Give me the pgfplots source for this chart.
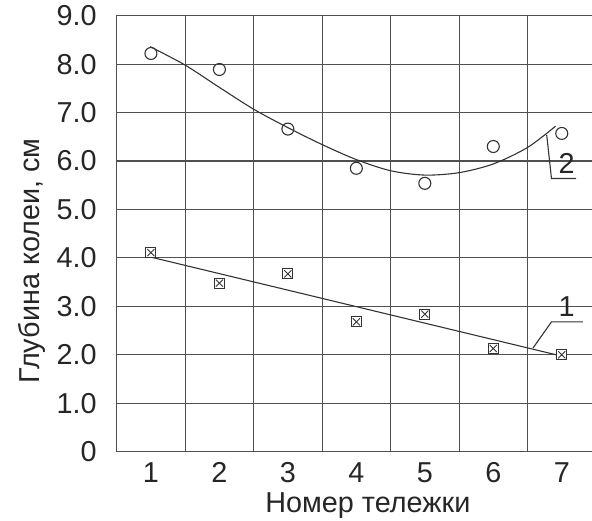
\documentclass[border=0pt]{standalone}
\usepackage{fontspec}
\setmainfont{Liberation Sans}
\usepackage{pgfplots}
\pgfplotsset{compat=1.18}
\definecolor{ln}{HTML}{333333}
\definecolor{gr}{HTML}{505050}
\begin{document}
\fontsize{14.4}{17}\selectfont
\begin{tikzpicture}
\begin{axis}[
  at={(0,0)}, anchor=south west,
  scale only axis, width=239.65pt, height=218pt,
  xmin=0.5, xmax=7.5, ymin=0, ymax=9,
  /pgf/number format/assume math mode=true,
  xtick={1,2,3,4,5,6,7},
  xticklabels={1,2,3,4,5,6,7},
  extra x ticks={1.5,2.5,3.5,4.5,5.5,6.5},
  extra x tick labels={},
  extra x tick style={grid=major},
  ytick={0,1,2,3,4,5,6,7,8,9},
  yticklabels={0,1.0,2.0,3.0,4.0,5.0,6.0,7.0,8.0,9.0},
  ymajorgrids,
  major tick length=0pt,
  grid style={gr, line width=0.55pt},
  axis line style={gr, line width=0.65pt},
  tick label style={font=\fontsize{14.4}{17}\selectfont, text=black!85},
  yticklabel style={xshift=-5pt},
  xticklabel style={anchor=base, inner sep=0pt, yshift=-15.6pt},
  xlabel={Номер тележки},
  ylabel={Глубина колеи, см},
  label style={font=\fontsize{14.4}{17}\selectfont, text=black!85},
  xlabel style={at={(axis description cs:0.524,0)}, anchor=base, inner sep=0pt, yshift=-30.2pt},
  ylabel style={at={(axis description cs:-0.1765,0.437)}, anchor=center},
  clip=false,
]
% fitted curve 2
\addplot[ln, line width=0.55pt, smooth, tension=0.5] coordinates {
 (0.99,8.36) (1.5,7.98) (2.0,7.52) (2.5,7.07) (3.0,6.69) (3.5,6.34) (4.0,6.03)
 (4.5,5.80) (5.0,5.71) (5.5,5.76) (6.0,5.94) (6.5,6.28) (6.91,6.72)};
% fitted line 1
\addplot[ln, line width=0.55pt] coordinates {(0.96,4.03) (6.92,2.0)};
% series 2 markers (circles)
\addplot[only marks, mark=o, mark size=3pt, mark options={ln, line width=0.55pt, fill=white}] coordinates {
 (1,8.22) (2,7.89) (3,6.66) (4,5.85) (5,5.54) (6,6.30) (7,6.57)};
% series 1 markers (squares with cross)
\addplot[only marks, mark=square*, mark size=2.5pt, mark options={ln, line width=0.55pt, fill=white}] coordinates {
 (1,4.11) (2,3.48) (3,3.67) (4,2.68) (5,2.84) (6,2.13) (7,2.0)};
\addplot[only marks, mark=x, mark size=2.5pt, mark options={ln, line width=0.45pt}] coordinates {
 (1,4.11) (2,3.48) (3,3.67) (4,2.68) (5,2.84) (6,2.13) (7,2.0)};
% leaders and labels
\draw[ln, line width=0.55pt] (axis cs:6.78,6.54) -- (axis cs:6.85,5.64) -- (axis cs:7.21,5.64);
\node[text=black!85, font=\fontsize{14.4}{17}\selectfont] at (axis cs:7.07,5.95) {2};
\draw[ln, line width=0.55pt] (axis cs:6.58,2.14) -- (axis cs:6.85,2.68) -- (axis cs:7.31,2.68);
\node[text=black!85, font=\fontsize{14.4}{17}\selectfont] at (axis cs:7.07,2.99) {1};
\end{axis}
\pgfresetboundingbox
\path[use as bounding box] (-58.35pt,-34.15pt) rectangle (237.65pt,225.85pt);
\end{tikzpicture}
\end{document}
